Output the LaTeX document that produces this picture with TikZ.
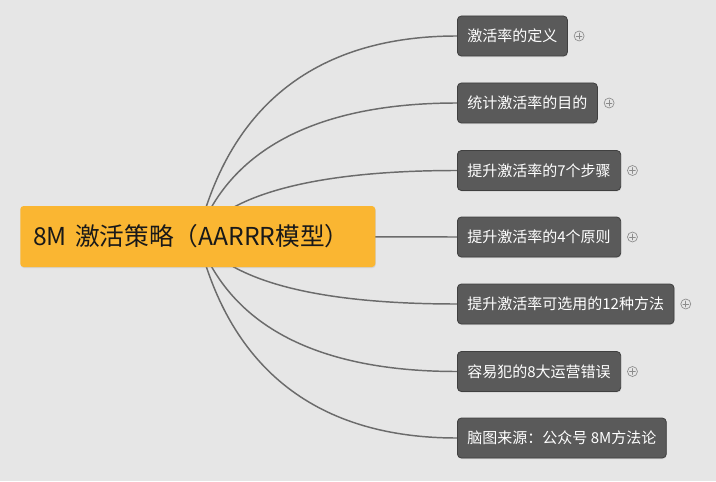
\documentclass[tikz,border=0pt]{standalone}
\usepackage{fontspec}
\setmainfont{Noto Sans CJK SC}
\usetikzlibrary{positioning,shadows,backgrounds}
\definecolor{canvas}{HTML}{E6E6E6}
\definecolor{rootfill}{HTML}{FAB632}
\definecolor{topicfill}{HTML}{5A5A5A}
\definecolor{topicedge}{HTML}{404040}
\definecolor{branchcol}{HTML}{6B6B6B}
\definecolor{expandcol}{HTML}{8C8C8C}
\begin{document}
\begin{tikzpicture}[x=0.75pt,y=-0.75pt,line cap=round,line join=round,
  rootbox/.style={fill=rootfill,rounded corners=2.5pt,anchor=west,
    text width=246.75pt,minimum height=45.75pt,inner xsep=9.75pt,align=left,
    text=black!90,font=\fontsize{18.5}{21}\selectfont,
    drop shadow={opacity=0.18,shadow xshift=0.4pt,shadow yshift=-0.8pt}},
  topicbox/.style={fill=topicfill,draw=topicedge,line width=0.6pt,rounded corners=3pt,
    anchor=west,minimum height=30pt,inner xsep=7.5pt,text=white,
    font=\fontsize{11.25}{13}\selectfont,
    drop shadow={opacity=0.2,shadow xshift=0.4pt,shadow yshift=-0.8pt}},
  branch/.style={draw=branchcol,line width=1.1pt},
  expander/.style={circle,draw=expandcol,line width=0.5pt,minimum size=7.5pt,inner sep=0pt}]
  \useasboundingbox (0,0) rectangle (716,481);
  % central topic
  \node[rootbox] (root) at (20,236.5) {8M 激活策略（AARRR模型）};
  % sub topics
  \node[topicbox] (c1) at (457,36) {激活率的定义};
  \node[topicbox] (c2) at (457,103) {统计激活率的目的};
  \node[topicbox] (c3) at (457,170.5) {提升激活率的7个步骤};
  \node[topicbox] (c4) at (457,237) {提升激活率的4个原则};
  \node[topicbox] (c5) at (457,304) {提升激活率可选用的12种方法};
  \node[topicbox] (c6) at (457,371.5) {容易犯的8大运营错误};
  \node[topicbox] (c7) at (457,438) {脑图来源：公众号 8M方法论};
  % collapsed markers
  \foreach \n in {1,...,6}{
    \node[expander,right=4.5pt of c\n] (x\n) {};
    \draw[expandcol,line width=0.5pt] ([yshift=-2.2pt]x\n.center) -- ([yshift=2.2pt]x\n.center)
      ([xshift=-2.2pt]x\n.center) -- ([xshift=2.2pt]x\n.center);
  }
  % canvas and branches behind the nodes
  \begin{pgfonlayer}{background}
    \fill[canvas] (0,0) rectangle (716,481);
    \draw[branch] (root.center) .. controls (230,103) and (319,36) .. (c1.west);
    \draw[branch] (root.center) .. controls (230,148) and (319,103) .. (c2.west);
    \draw[branch] (root.center) .. controls (230,193) and (319,170.5) .. (c3.west);
    \draw[branch] (root.center) -- (c4.west);
    \draw[branch] (root.center) .. controls (230,282) and (319,304) .. (c5.west);
    \draw[branch] (root.center) .. controls (230,327) and (319,371.5) .. (c6.west);
    \draw[branch] (root.center) .. controls (230,371) and (319,438) .. (c7.west);
  \end{pgfonlayer}
\end{tikzpicture}
\end{document}
